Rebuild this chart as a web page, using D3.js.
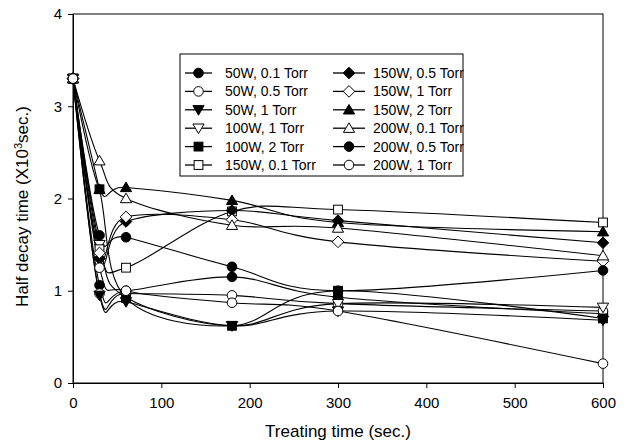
<!DOCTYPE html>
<html><head><meta charset="utf-8">
<script src="https://cdn.jsdelivr.net/npm/d3@7"></script>
<style>body{margin:0;background:#fff}svg{display:block;font-family:"Liberation Sans",Arial,sans-serif}</style>
</head><body>
<svg id="c" width="627" height="444"></svg>
<script>
const times = [0, 30, 60, 180, 300, 600];
const seriesNames = ["50W, 0.1 Torr","50W, 0.5 Torr","50W, 1 Torr","100W, 1 Torr","100W, 2 Torr","150W, 0.1 Torr",
  "150W, 0.5 Torr","150W, 1 Torr","150W, 2 Torr","200W, 0.1 Torr","200W, 0.5 Torr","200W, 1 Torr"];
const markers = ["circleF","circleO","triDownF","triDownO","squareF","squareO","diamondF","diamondO","triUpF","triUpO","circleF","circleO"];
const s50W01 = [3.3, 1.06, 1.00, 1.15, 0.93, 0.75];
const s50W05 = [3.3, 0.97, 0.97, 0.95, 0.86, 0.78];
const s50W1  = [3.3, 0.95, 0.88, 0.62, 0.78, 0.68];
const s100W1 = [3.3, 1.50, 0.93, 0.62, 0.86, 0.82];
const s100W2 = [3.3, 2.10, 0.92, 0.62, 1.00, 0.70];
const s150W01= [3.3, 1.45, 1.25, 1.86, 1.88, 1.74];
const s150W05= [3.3, 1.35, 1.75, 1.87, 1.76, 1.52];
const s150W1 = [3.3, 1.41, 1.80, 1.77, 1.53, 1.32];
const s150W2 = [3.3, 2.10, 2.12, 1.98, 1.74, 1.64];
const s200W01= [3.3, 2.41, 2.00, 1.71, 1.68, 1.38];
const s200W05= [3.3, 1.60, 1.58, 1.26, 1.00, 1.22];
const s200W1 = [3.3, 1.25, 1.00, 0.87, 0.78, 0.21];
const allValues = [s50W01,s50W05,s50W1,s100W1,s100W2,s150W01,s150W05,s150W1,s150W2,s200W01,s200W05,s200W1];
const xTicks = [0,100,200,300,400,500,600];
const yTicks = [0,1,2,3,4];

const svg = d3.select("#c");
const m = {l:73, r:603, t:14, b:383};
const x = d3.scaleLinear().domain([0,600]).range([m.l, m.r]);
const y = d3.scaleLinear().domain([0,4]).range([m.b, m.t]);

// frame
svg.append("rect").attr("x",m.l).attr("y",m.t).attr("width",m.r-m.l).attr("height",m.b-m.t)
  .attr("fill","none").attr("stroke","#000").attr("stroke-width",1);

const xa = svg.append("g").attr("transform",`translate(0,${m.b})`)
  .call(d3.axisBottom(x).tickValues(xTicks).tickSize(5).tickPadding(9).tickFormat(d3.format("d")));
const ya = svg.append("g").attr("transform",`translate(${m.l},0)`)
  .call(d3.axisLeft(y).tickValues(yTicks).tickSize(5).tickPadding(6).tickFormat(d3.format("d")));
[xa,ya].forEach(a=>{a.select(".domain").attr("stroke","#000");
  a.selectAll("text").attr("font-size",15).attr("fill","#000").attr("font-family","Liberation Sans, Arial, sans-serif");});

svg.append("text").attr("x",(m.l+m.r)/2).attr("y",437).attr("text-anchor","middle")
  .attr("font-size",17).text("Treating time (sec.)");
const yt = svg.append("text").attr("transform",`translate(28,${(m.t+m.b)/2+8}) rotate(-90)`)
  .attr("text-anchor","middle").attr("font-size",17);
yt.append("tspan").text("Half decay time (X10");
yt.append("tspan").attr("dy",-6).attr("font-size",11).text("3");
yt.append("tspan").attr("dy",6).text("sec.)");

const line = d3.line().x((d,i)=>x(times[i])).y(d=>y(d)).curve(d3.curveCardinal.tension(0));
const R = 4.8;
function drawMarker(g, type, cx, cy){
  const filled = type.endsWith("F");
  const fill = filled ? "#000" : "#fff";
  const k = type.slice(0,-1);
  let el;
  if(k==="circle") el = g.append("circle").attr("cx",cx).attr("cy",cy).attr("r",R);
  else if(k==="square") el = g.append("rect").attr("x",cx-4.4).attr("y",cy-4.4).attr("width",8.8).attr("height",8.8);
  else if(k==="diamond") el = g.append("path").attr("d",`M${cx},${cy-5.8}L${cx+5.8},${cy}L${cx},${cy+5.8}L${cx-5.8},${cy}Z`);
  else if(k==="triUp") el = g.append("path").attr("d",`M${cx},${cy-5.4}L${cx+5.6},${cy+4.2}L${cx-5.6},${cy+4.2}Z`);
  else if(k==="triDown") el = g.append("path").attr("d",`M${cx},${cy+5.4}L${cx+5.6},${cy-4.2}L${cx-5.6},${cy-4.2}Z`);
  el.attr("fill",fill).attr("stroke","#000").attr("stroke-width",1);
}
const plot = svg.append("g");
allValues.forEach((vals,si)=>{
  plot.append("path").attr("d",line(vals)).attr("fill","none").attr("stroke","#000").attr("stroke-width",1.1);
});
allValues.forEach((vals,si)=>{
  const g = plot.append("g");
  vals.forEach((v,i)=>drawMarker(g, markers[si], x(times[i]), y(v)));
});

// legend
const lg = svg.append("g");
lg.append("rect").attr("x",180).attr("y",54).attr("width",283).attr("height",122)
  .attr("fill","#fff").attr("stroke","#000").attr("stroke-width",1);
seriesNames.forEach((n,i)=>{
  const col = Math.floor(i/6), row = i%6;
  const cy = 73 + row*18.4;
  const lx0 = col? 333:185, lx1 = col? 365:212, tx = col? 373:225;
  lg.append("line").attr("x1",lx0).attr("x2",lx1).attr("y1",cy).attr("y2",cy).attr("stroke","#000").attr("stroke-width",1.3);
  drawMarker(lg, markers[i], (lx0+lx1)/2, cy);
  lg.append("text").attr("x",tx).attr("y",cy+5).attr("font-size",14).text(n);
});
</script>
</body></html>
